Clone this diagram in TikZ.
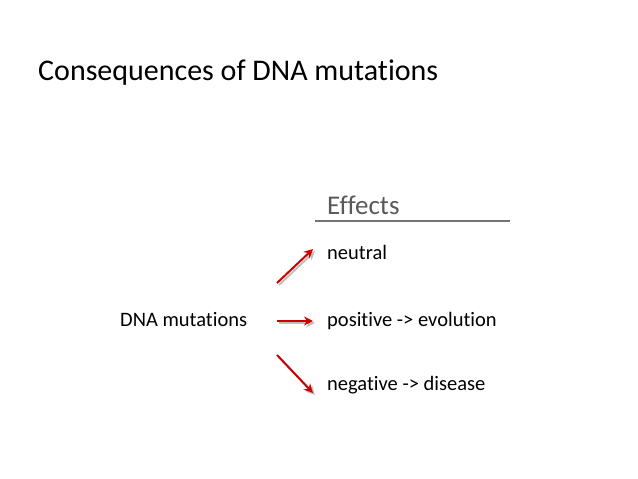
\documentclass[tikz,border=0pt]{standalone}
\usepackage{fontspec}
\setmainfont[Ligatures={NoCommon}]{Carlito}
\usetikzlibrary{arrows.meta}

\begin{document}
\begin{tikzpicture}[x=1pt,y=-1pt]
\tikzstyle{every node}=[inner sep=0pt,anchor=base west]
\tikzstyle{effect}=[font=\fontsize{20.5}{23}\selectfont]
\tikzstyle{redarrow}=[draw=red!80!black,line width=2pt,-{Stealth[length=9pt,width=9pt,open]}]
\tikzstyle{shade}=[draw=black!25,line width=2pt,-{Stealth[length=9pt,width=9pt,open]}]
\useasboundingbox (0,0) rectangle (638,479);
\node (title) at (38,80) {\fontsize{30}{34}\selectfont Consequences of DNA mutations};
\node (head) at (327,214) [text=black!65] {\fontsize{27}{30}\selectfont Effects};
\coordinate (ulA) at (315,221);
\coordinate (ulB) at (510,221);
\draw[black!55,line width=1.5pt] (ulA) -- (ulB);
\node[effect] (dna) at (120,326) {DNA mutations};
\node[effect] (neutral) at (327,259) {neutral};
\node[effect] (pos) at (327,326) {positive -> evolution};
\node[effect] (neg) at (327,390) {negative -> disease};
\coordinate (s1) at (277,283); \coordinate (e1) at (313,249);
\coordinate (s2) at (277,321); \coordinate (e2) at (313,321);
\coordinate (s3) at (277,355); \coordinate (e3) at (313,393);
\foreach \s/\e in {s1/e1,s2/e2,s3/e3} {
  \draw[shade] ([shift={(2,2)}]\s) -- ([shift={(2,2)}]\e);
  \draw[redarrow] (\s) -- (\e);
}
\end{tikzpicture}
\end{document}
